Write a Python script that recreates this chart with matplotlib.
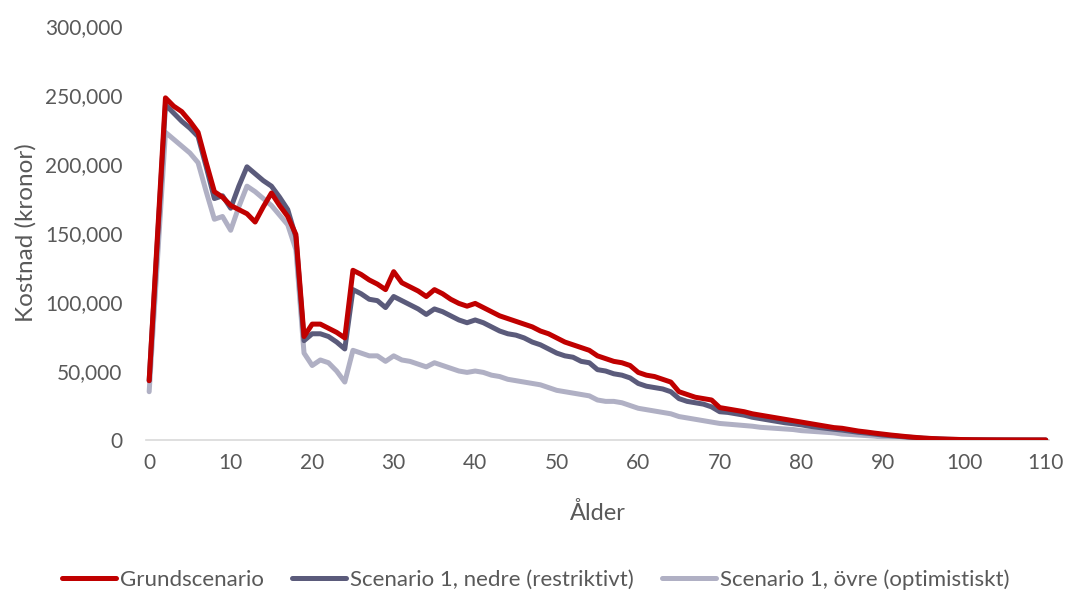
import matplotlib
matplotlib.use("Agg")
import matplotlib.pyplot as plt
from matplotlib.ticker import FuncFormatter, MultipleLocator

plt.rcParams['font.family'] = ['Lato', 'DejaVu Sans']

# Age 0..110
ages = list(range(0, 111))

# Cost per age, thousands of kronor
grund_k = [
    43, 146, 248, 242, 238, 231, 223, 201, 180, 176,
    170, 167, 164, 158, 169, 179, 170, 162, 149, 75,
    84, 84, 81, 78, 74,
    123, 120, 116, 113, 109, 122, 114, 111, 108, 104,
    109, 106, 102, 99, 97, 99, 96, 93, 90, 88,
    86, 84, 82, 79, 77, 74, 71, 69, 67, 65,
    61, 59, 57, 56, 54, 49, 47, 46, 44, 42,
    35, 33, 31, 30, 29,
    23.5, 22.5, 21.5, 20.5, 19, 18, 17, 16, 15, 14,
    13, 12, 11, 10, 9, 8.5, 7.5, 6.5, 5.8, 5,
    4.3, 3.6, 3, 2.4, 1.9, 1.4, 1.1, 0.8, 0.6, 0.45,
    0.3, 0.2, 0.15, 0.1, 0.07, 0.05, 0.03, 0.02, 0.01, 0.01, 0,
]

nedre_k = [
    43, 143, 243, 237, 231, 226, 220, 198, 175, 177,
    168, 184, 198, 193, 188, 184, 176, 167, 147, 72,
    77, 77, 75, 71, 66,
    109, 106, 102, 101, 96, 104, 101, 98, 95, 91,
    95, 93, 90, 87, 85, 87, 85, 82, 79, 77,
    76, 74, 71, 69, 66, 63, 61, 60, 57, 56,
    51, 50, 48, 47, 45, 41, 39, 38, 37, 35,
    30, 28, 27, 26, 24,
    20.5, 20, 19, 18, 16.5, 15.5, 14.5, 13.5, 12.5, 11.8,
    11, 10, 9.2, 8.5, 7.8, 7.2, 6.4, 5.6, 5, 4.3,
    3.6, 3.1, 2.6, 2.1, 1.7, 1.3, 1.0, 0.75, 0.55, 0.4,
    0.28, 0.19, 0.13, 0.09, 0.06, 0.04, 0.03, 0.02, 0.01, 0.01, 0,
]

ovre_k = [
    35, 129, 223, 218, 213, 208, 201, 180, 160, 162,
    152, 169, 184, 180, 175, 170, 163, 156, 138, 63,
    54, 58, 56, 50, 42,
    65, 63, 61, 61, 57, 61, 58, 57, 55, 53,
    56, 54, 52, 50, 49, 50, 49, 47, 46, 44,
    43, 42, 41, 40, 38, 36, 35, 34, 33, 32,
    29, 28, 28, 27, 25, 23, 22, 21, 20, 19,
    17, 16, 15, 14, 13,
    12, 11.5, 11, 10.5, 10, 9.2, 8.8, 8.4, 8, 7.6,
    6.8, 6.4, 6, 5.6, 5.2, 4.3, 4, 3.6, 3.2, 2.8,
    2.1, 1.9, 1.6, 1.3, 1.0, 0.8, 0.6, 0.45, 0.33, 0.24,
    0.17, 0.12, 0.08, 0.06, 0.04, 0.03, 0.02, 0.01, 0.01, 0, 0,
]

series_names = [
    "Grundscenario",
    "Scenario 1, nedre (restriktivt)",
    "Scenario 1, övre (optimistiskt)",
]
series_colors = ["#C00000", "#5B5B7B", "#B0B0C4"]
series_values = [
    [v * 1000 for v in grund_k],
    [v * 1000 for v in nedre_k],
    [v * 1000 for v in ovre_k],
]

text_color = "#595959"

fig = plt.figure(figsize=(10.65, 5.93), dpi=100)
ax = fig.add_axes([0.137, 0.258, 0.848, 0.698])

zorders = [4, 3, 2]
for name, color, vals, z in zip(series_names, series_colors, series_values, zorders):
    ax.plot(ages, vals, color=color, lw=3.6, label=name, zorder=z,
            solid_joinstyle="round", solid_capstyle="round")

ax.set_xlim(-0.4, 110.4)
ax.set_ylim(0, 300000)
ax.xaxis.set_major_locator(MultipleLocator(10))
ax.yaxis.set_major_locator(MultipleLocator(50000))
ax.yaxis.set_major_formatter(FuncFormatter(lambda v, p: f"{int(v):,}"))

for side in ("top", "right", "left"):
    ax.spines[side].set_visible(False)
ax.spines["bottom"].set_color("#D9D9D9")
ax.spines["bottom"].set_linewidth(1.2)
ax.tick_params(axis="both", length=0, labelsize=15, colors=text_color)
ax.tick_params(axis="y", pad=17)
ax.tick_params(axis="x", pad=9)

ax.set_xlabel("Ålder", fontsize=17, color=text_color, labelpad=21)
ax.set_ylabel("Kostnad (kronor)", fontsize=17.5, color=text_color, labelpad=6)

handles, labels = ax.get_legend_handles_labels()
leg = fig.legend(handles, labels, loc="center", bbox_to_anchor=(0.503, 0.022),
                 ncol=3, frameon=False, fontsize=16, handlelength=2.4,
                 handletextpad=0.18, columnspacing=1.3)
for t in leg.get_texts():
    t.set_color(text_color)

fig.savefig("out.png", dpi=100)
